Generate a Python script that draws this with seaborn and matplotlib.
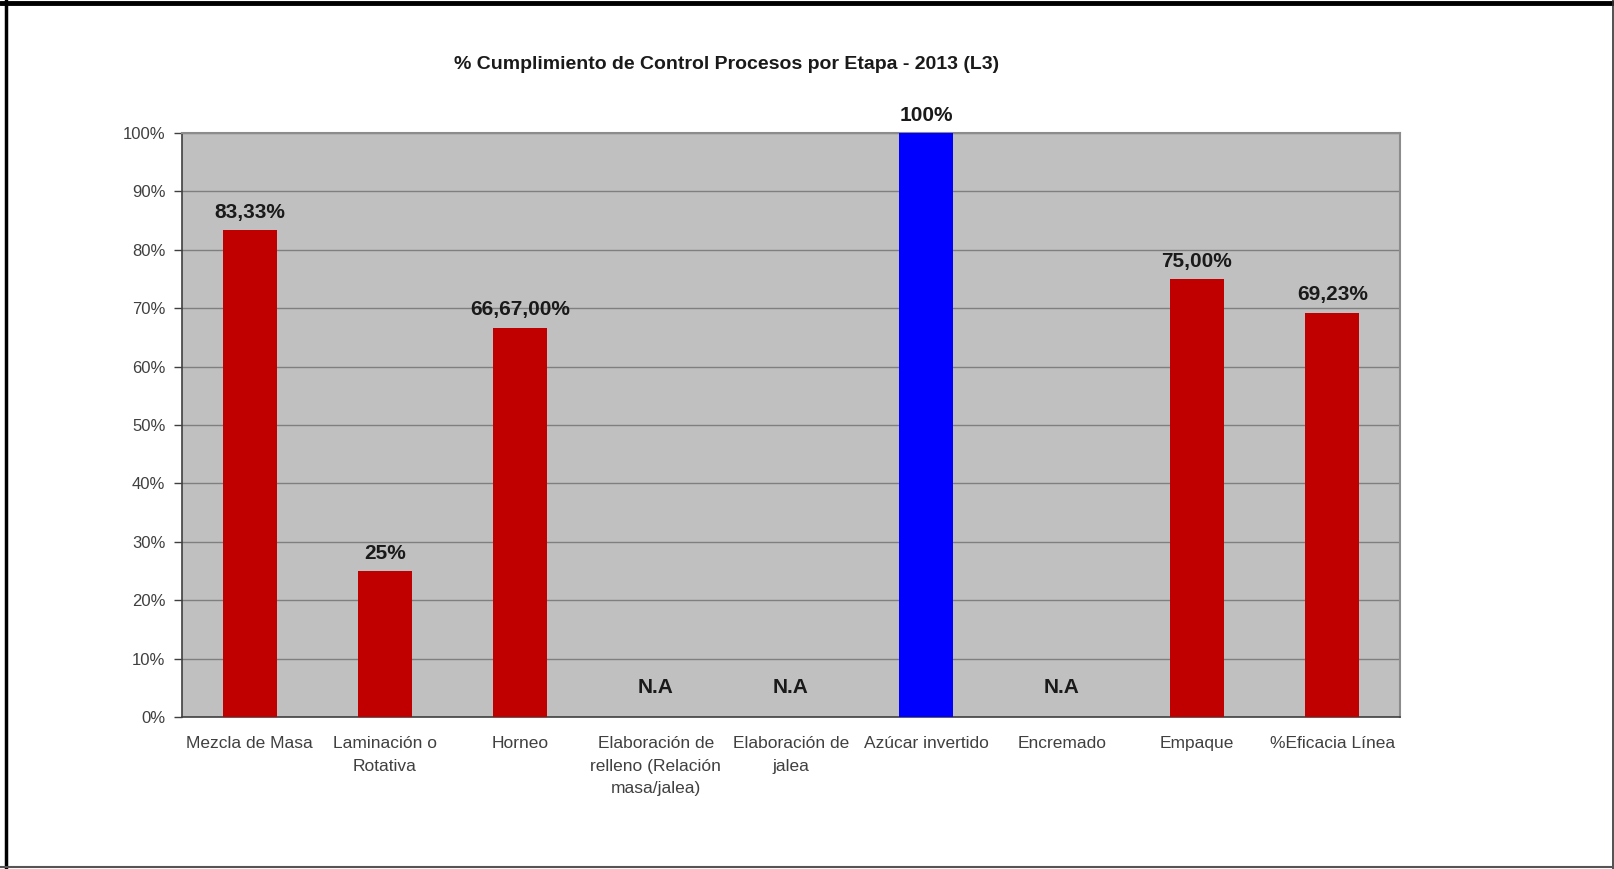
import numpy as np
import pandas as pd
import seaborn as sns
import matplotlib.pyplot as plt
from matplotlib.lines import Line2D

# Stage names, compliance values (None = not applicable) and the printed labels
etapas = [
    "Mezcla de Masa",
    "Laminación o\nRotativa",
    "Horneo",
    "Elaboración de\nrelleno (Relación\nmasa/jalea)",
    "Elaboración de\njalea",
    "Azúcar invertido",
    "Encremado",
    "Empaque",
    "%Eficacia Línea",
]
cumplimiento = [83.33, 25, 66.67, None, None, 100, None, 75, 69.23]
etiquetas = ["83,33%", "25%", "66,67,00%", "N.A", "N.A", "100%", "N.A", "75,00%", "69,23%"]
colores = ["#c00000", "#c00000", "#c00000", "#c00000", "#c00000",
           "#0000ff", "#c00000", "#c00000", "#c00000"]
y_ticks = list(range(0, 101, 10))
titulo = "% Cumplimiento de Control Procesos por Etapa - 2013 (L3)"

sns.set_theme(style="white")
fuente = ["Liberation Sans Narrow", "Liberation Sans", "DejaVu Sans"]
plt.rcParams["font.family"] = fuente

df = pd.DataFrame({"etapa": etapas,
                   "valor": [np.nan if v is None else v for v in cumplimiento]})

fig = plt.figure(figsize=(16.14, 8.69), dpi=100)
ax = fig.add_axes([0.1128, 0.1749, 0.7546, 0.6721])

sns.barplot(data=df, x="etapa", y="valor", hue="etapa", palette=colores,
            legend=False, width=0.4, saturation=1, linewidth=0, ax=ax, zorder=3)

ax.set_facecolor("#c0c0c0")
ax.set_ylim(0, 100)
ax.set_xlim(-0.5, len(etapas) - 0.5)
ax.set_yticks(y_ticks)
ax.set_yticklabels([f"{t}%" for t in y_ticks], fontsize=12, color="#404040")
ax.yaxis.grid(True, color="#7f7f7f", linewidth=1, zorder=0)
ax.set_axisbelow(True)
ax.set_xlabel("")
ax.set_ylabel("")

# category labels under each bar, separator ticks between categories
ax.set_xticks(range(len(etapas)))
ax.set_xticklabels(etapas, fontsize=12.5, color="#404040", linespacing=1.6)
ax.set_xticks(np.arange(-0.5, len(etapas), 1), minor=True)
ax.tick_params(axis="x", which="major", length=0, pad=14)
ax.tick_params(axis="x", which="minor", length=6, width=1, color="#404040", direction="out")
ax.tick_params(axis="y", which="major", length=6, width=1, color="#404040",
               direction="out", left=True, pad=6)

for side in ["top", "right"]:
    ax.spines[side].set_color("#8c8c8c")
    ax.spines[side].set_linewidth(1.5)
for side in ["left", "bottom"]:
    ax.spines[side].set_color("#404040")
    ax.spines[side].set_linewidth(1.2)

# value labels; N.A stages are labelled near the baseline
for i, (v, lab) in enumerate(zip(cumplimiento, etiquetas)):
    y = 3.4 if v is None else v
    ax.annotate(lab, xy=(i, y), xytext=(0, 6 if v is not None else 0),
                textcoords="offset points", ha="center", va="bottom",
                fontsize=15, fontweight="bold", color="#1a1a1a",
                annotation_clip=False)

fig.text(0.45, 0.926, titulo, ha="center", va="center",
         fontsize=14, fontweight="bold", color="#1a1a1a")

# outer frame around the figure
fig.add_artist(Line2D([0, 1], [0.996, 0.996], transform=fig.transFigure, color="black", linewidth=3.5))
fig.add_artist(Line2D([0.0035, 0.0035], [0, 1], transform=fig.transFigure, color="black", linewidth=2.5))
fig.add_artist(Line2D([0.9995, 0.9995], [0, 1], transform=fig.transFigure, color="#333333", linewidth=1.2))
fig.add_artist(Line2D([0, 1], [0.002, 0.002], transform=fig.transFigure, color="#555555", linewidth=1.5))

fig.savefig("out.png", dpi=100, facecolor="white")
